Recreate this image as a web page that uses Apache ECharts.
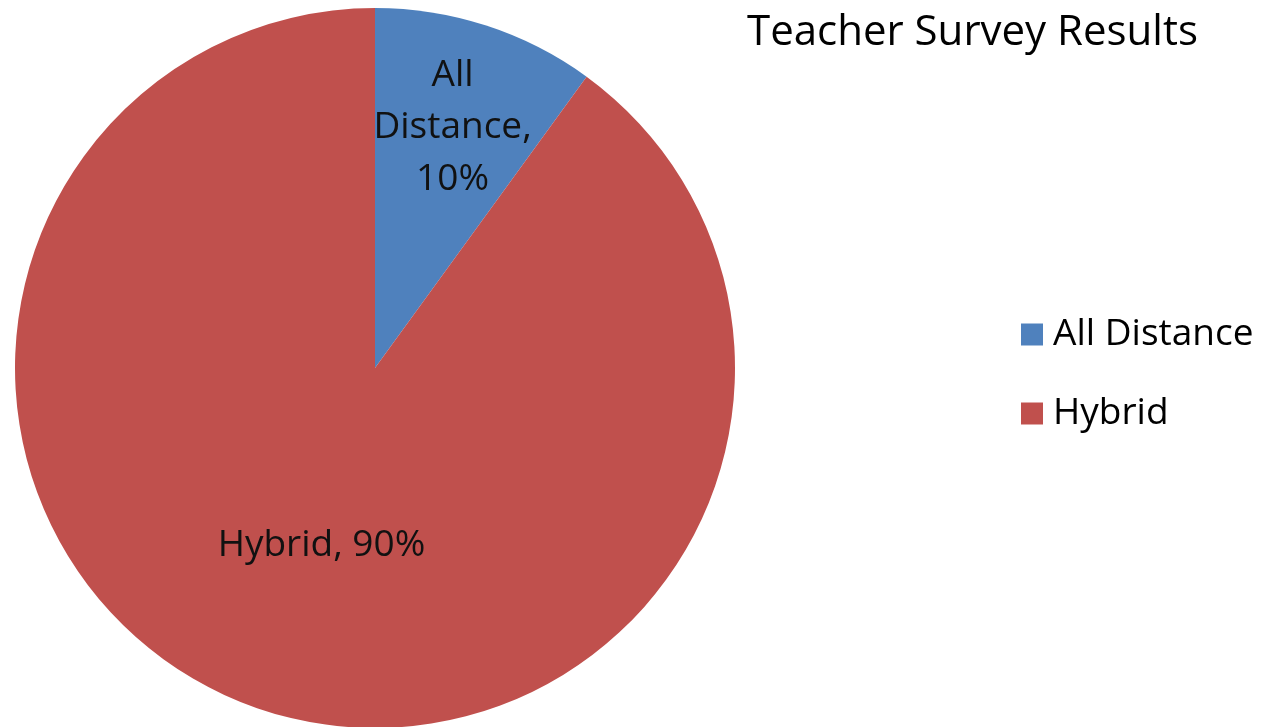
<!DOCTYPE html>
<html>
<head>
<meta charset="utf-8">
<script src="https://cdn.jsdelivr.net/npm/echarts@6/dist/echarts.min.js"></script>
<style>
  html, body { margin: 0; padding: 0; background: #fff; }
  #chart { width: 1265px; height: 727px; }
</style>
</head>
<body>
<div id="chart"></div>
<script>
const categories = ['All Distance', 'Hybrid']
const shares = [10, 90]
const colors = ['#4F81BD', '#C0504D']

const FONT = 'Open Sans'

const chart = echarts.init(document.getElementById('chart'))

chart.setOption({
  animation: false,
  color: colors,
  title: {
    text: 'Teacher Survey Results',
    left: 742,
    top: 7,
    textStyle: { fontFamily: FONT, fontSize: 42, fontWeight: 'normal', color: '#000' },
  },
  legend: {
    orient: 'vertical',
    left: 1016,
    top: 311,
    itemWidth: 22,
    itemHeight: 22,
    itemGap: 42,
    icon: 'rect',
    textStyle: { fontFamily: FONT, fontSize: 37, color: '#000', padding: [0, 0, 0, 5] },
    data: categories,
  },
  series: [{
    type: 'pie',
    center: [375, 368],
    radius: 360,
    startAngle: 90,
    clockwise: true,
    label: {
      position: 'inside',
      fontFamily: FONT,
      fontSize: 37,
      lineHeight: 52,
      color: '#111',
      formatter(p) {
        return p.dataIndex === 0
          ? p.name.replace(' ', '\n') + ',\n' + p.value + '%'
          : p.name + ', ' + p.value + '%'
      },
    },
    labelLine: { show: false },
    data: categories.map((name, i) => ({
      name,
      value: shares[i],
      label: i === 0 ? { offset: [21, -67] } : { offset: [3, 3] },
    })),
  }],
})
</script>
</body>
</html>
